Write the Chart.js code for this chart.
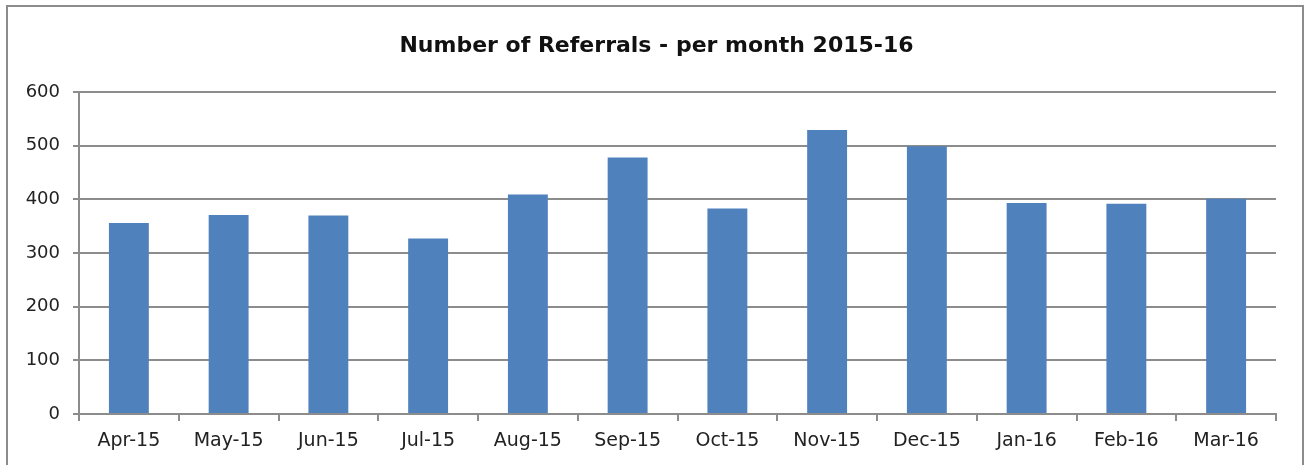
<!DOCTYPE html>
<html>
<head>
<meta charset="utf-8">
<script src="https://cdn.jsdelivr.net/npm/chart.js@4"></script>
<style>
  html, body { margin: 0; padding: 0; background: #fff; overflow: hidden; }
  #wrap { position: relative; width: 1307px; height: 465px; }
  #frame { position: absolute; left: 6px; top: 5px; width: 1298px; height: 480px; border: 2px solid #8c8c8c; box-sizing: border-box; }
  canvas { position: absolute; left: 0; top: 0; }
</style>
</head>
<body>
<div id="wrap">
  <div id="frame"></div>
  <canvas id="myChart" width="1307" height="465"></canvas>
</div>
<script>
// months shown on the x-axis
const months = ['Apr-15', 'May-15', 'Jun-15', 'Jul-15', 'Aug-15', 'Sep-15',
                'Oct-15', 'Nov-15', 'Dec-15', 'Jan-16', 'Feb-16', 'Mar-16'];
// referrals per month
const referrals = [356, 371, 370, 327, 409, 478, 383, 529, 499, 393, 392, 401];
// y-axis range
const yMin = 0;
const yMax = 600;
const yStep = 100;

const chartTitle = 'Number of Referrals - per month 2015-16';
const fontFamily = '"DejaVu Sans", sans-serif';
const gridColor = '#8c8c8c';

// title drawn over the canvas centre (the plot area itself is off-centre)
const centredTitle = {
  id: 'centredTitle',
  afterDraw(chart) {
    const c = chart.ctx;
    c.save();
    c.font = 'bold 22px ' + fontFamily;
    c.fillStyle = '#111';
    c.textAlign = 'center';
    c.textBaseline = 'alphabetic';
    c.fillText(chartTitle, chart.width / 2 + 3, 52);
    c.restore();
  }
};

const ctx = document.getElementById('myChart');
new Chart(ctx, {
  type: 'bar',
  data: {
    labels: months,
    datasets: [{
      label: 'Referrals',
      data: referrals,
      backgroundColor: '#4F81BD',
      borderWidth: 0,
      categoryPercentage: 1.0,
      barPercentage: 0.4
    }]
  },
  plugins: [centredTitle],
  options: {
    responsive: false,
    animation: false,
    layout: {
      padding: { left: 0, right: 31, top: 92, bottom: 0 }
    },
    plugins: {
      legend: { display: false },
      tooltip: { enabled: false },
      title: { display: false }
    },
    scales: {
      x: {
        offset: true,
        grid: {
          offset: true,
          drawOnChartArea: false,
          drawTicks: true,
          tickLength: 7,
          color: gridColor,
          lineWidth: 2
        },
        border: { display: true, color: gridColor, width: 2 },
        ticks: {
          color: '#222',
          font: { family: fontFamily, size: 19 },
          padding: 9,
          maxRotation: 0,
          autoSkip: false
        },
        afterFit: (scale) => { scale.height = 51; }
      },
      y: {
        min: yMin,
        max: yMax,
        grid: {
          color: gridColor,
          lineWidth: 2,
          drawTicks: true,
          tickLength: 6
        },
        border: { display: true, color: gridColor, width: 2 },
        ticks: {
          stepSize: yStep,
          color: '#222',
          font: { family: fontFamily, size: 18 },
          padding: 13
        },
        afterFit: (scale) => { scale.width = 79; }
      }
    }
  }
});
</script>
</body>
</html>
